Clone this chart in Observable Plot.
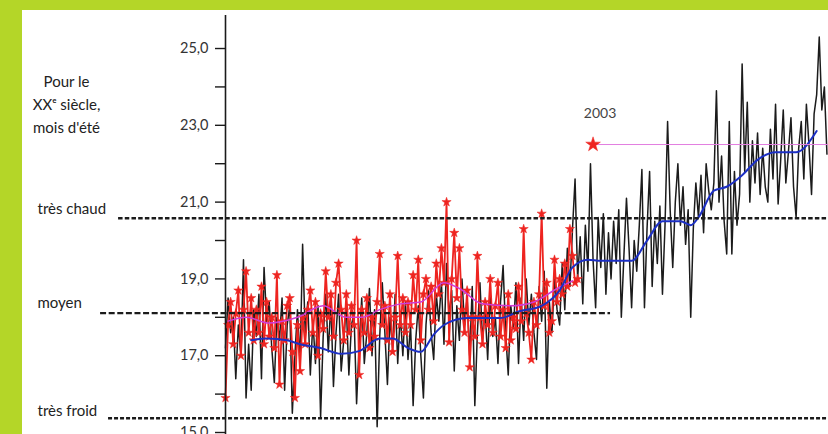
<!DOCTYPE html>
<html><head><meta charset="utf-8">
<script src="https://cdn.jsdelivr.net/npm/d3@7"></script>
<script src="https://cdn.jsdelivr.net/npm/@observablehq/plot@0.6"></script>
<style>
html,body{margin:0;padding:0;background:#b4d628;width:828px;height:434px;overflow:hidden;}
#chart{position:absolute;left:22px;top:10px;width:806px;height:424px;background:#fff;overflow:hidden;}
</style></head><body><div id="chart"></div>
<script>
// ---- data ----
const startYear = 1860;
// simulated summer temperature, one value per year 1860–2094 (black)
const blackValues = [
17.2,18.5,17.6,18.0,16.4,17.8,17.0,19.5,15.9,17.3,
16.1,18.2,17.5,18.6,16.4,19.3,17.9,18.4,17.2,16.3,
18.0,17.4,18.5,16.1,17.8,18.3,15.5,17.0,18.2,16.8,
19.9,17.6,18.4,16.5,17.9,16.8,18.3,15.4,17.5,18.6,
17.1,18.4,16.2,17.6,18.6,16.6,17.4,18.3,16.5,17.8,
18.1,15.75,17.3,18.5,16.8,17.6,18.75,17.0,18.2,15.15,
17.5,18.9,17.6,16.25,18.0,17.2,18.6,16.8,18.1,17.0,
18.4,16.9,17.8,15.7,17.4,18.3,17.0,15.9,17.8,18.7,
17.6,16.9,18.6,17.9,18.9,17.3,19.4,18.0,18.7,16.6,
18.3,17.4,19.0,17.8,18.5,17.0,18.8,15.7,17.6,18.9,
17.4,18.2,16.9,18.6,17.5,18.0,16.8,18.4,19.35,17.6,
16.5,18.3,17.7,18.9,16.8,18.5,17.4,19.0,17.8,18.6,
17.6,16.9,18.8,17.9,19.2,16.15,18.4,17.6,19.0,18.2,
17.8,19.4,18.2,19.8,18.8,20.3,21.6,19.0,20.1,18.35,
20.4,19.2,22.0,19.5,18.25,20.6,19.3,20.7,18.6,20.2,
19.0,20.5,19.4,20.8,18.0,19.6,21.1,19.8,18.25,20.0,
19.2,20.4,21.85,18.25,20.3,21.8,18.8,20.5,19.4,20.9,
18.6,20.4,23.1,20.8,19.3,21.0,22.0,20.4,21.4,19.9,
20.8,18.0,20.3,21.5,20.6,21.7,20.2,22.0,21.3,20.8,
21.5,23.9,21.0,22.2,20.5,19.65,23.1,19.65,21.8,20.4,
21.2,24.6,21.8,23.6,21.0,22.6,21.5,22.8,21.2,22.4,
21.4,21.0,22.9,21.6,23.55,20.95,22.1,23.4,21.5,22.3,
23.2,21.4,20.6,22.4,23.1,21.6,23.55,22.5,21.2,23.3,
23.8,25.3,23.4,24.0,22.25
];
// observed summer temperature, one value per year 1860–1997 (red stars)
const redValues = [
15.9,17.8,18.4,17.3,18.1,18.7,17.0,18.2,19.2,17.6,
18.5,17.4,18.2,17.6,18.8,17.3,18.4,17.5,18.0,17.2,
19.1,16.25,17.9,17.4,18.3,18.5,17.1,15.9,17.8,16.6,
18.0,17.3,18.2,18.7,17.6,18.4,17.0,18.1,17.7,19.2,
18.0,18.6,17.5,18.9,19.4,18.2,17.4,18.6,17.6,18.3,
17.8,20.0,16.5,18.2,17.6,18.5,17.2,18.0,17.5,18.4,
19.65,17.8,18.3,17.4,18.6,17.1,18.0,19.6,17.8,18.5,
17.6,18.4,17.8,19.1,18.2,19.5,17.4,18.6,19.0,18.2,
18.8,17.9,19.4,18.6,19.8,18.9,21.0,17.35,19.0,20.2,
18.5,19.8,18.2,17.6,18.7,16.7,18.0,17.5,19.6,18.0,
17.3,18.4,17.8,19.0,17.6,18.3,18.9,17.5,18.2,17.2,
18.6,17.4,18.0,17.7,18.8,17.9,20.3,18.1,17.6,16.9,
18.4,17.8,18.6,20.7,18.3,18.9,17.6,17.9,19.5,18.4,
19.0,18.6,19.4,18.8,20.3,19.6,18.9,19.0
];
// smoothed simulation (blue)
const blueYears  = [1870,1876,1884,1889,1897,1905,1912,1920,1925,1931,1936,1941,1945,1954,1967,1974,1983,1990,1995,2001,2006,2018,2024,2030,2037,2041,2044,2050,2055,2061,2067,2074,2082,2090];
const blueValues = [17.4,17.45,17.4,17.3,17.2,17.05,17.12,17.45,17.45,17.2,17.1,17.55,17.8,17.98,17.98,18.15,18.3,18.7,19.3,19.5,19.47,19.47,20.0,20.5,20.5,20.4,20.6,21.3,21.4,21.7,22.1,22.3,22.3,22.85];
// smoothed observations (magenta)
const magentaYears  = [1861,1868,1877,1888,1898,1907,1913,1920,1928,1936,1945,1951,1960,1971,1980,1989,1995];
const magentaValues = [17.9,18.0,17.85,18.0,18.3,18.0,18.0,18.2,18.35,18.4,18.9,18.75,18.35,18.3,18.4,18.75,18.95];
// reference levels
const levelNames  = ["très chaud", "moyen", "très froid"];
const levelValues = [20.58, 18.11, 15.37];
// 2003 record
const recordYear = 2003;
const recordValue = 22.5;
const recordLabel = "2003";
const sideTitle = "Pour le\nXXᵉ siècle,\nmois d'été";
const yTicks = [15,16,17,18,19,20,21,22,23,24,25];

// ---- tables ----
const black = blackValues.map((v, i) => ({year: startYear + i, value: v}));
const red = redValues.map((v, i) => ({year: startYear + i, value: v}));
const blue = blueYears.map((y, i) => ({year: y, value: blueValues[i]}));
const magenta = magentaYears.map((y, i) => ({year: y, value: magentaValues[i]}));

const RED = "#ee2420", BLUE = "#1c2fc4", MAG = "#d23ad6", INK = "#1b1b1b";
const xEnd = 2094.6;

const chart = Plot.plot({
  width: 806, height: 424,
  marginLeft: 203, marginRight: 0, marginTop: 5, marginBottom: 2,
  x: {domain: [startYear, xEnd], axis: null, label: null},
  y: {domain: [15, 25.86], axis: null, label: null},
  style: {fontFamily: "Lato, 'Open Sans', sans-serif", fontSize: "14px", color: "#222", background: "transparent", overflow: "visible"},
  marks: [
    Plot.line(black, {x: "year", y: "value", stroke: INK, strokeWidth: 1.5}),
    Plot.line(red, {x: "year", y: "value", stroke: RED, strokeWidth: 1.8}),
    Plot.dot(red, {x: "year", y: "value", symbol: "star", r: 2.9, fill: RED, stroke: RED, strokeWidth: 0.5}),
    Plot.line(magenta, {x: "year", y: "value", stroke: MAG, strokeWidth: 1.5, curve: "monotone-x"}),
    Plot.line(blue, {x: "year", y: "value", stroke: BLUE, strokeWidth: 2, curve: "monotone-x"}),
    // level lines
    Plot.ruleY([levelValues[0]], {x1: 1818.4, x2: xEnd, stroke: INK, strokeWidth: 2.4, strokeDasharray: "4.5,2.2"}),
    Plot.ruleY([levelValues[1]], {x1: 1811.4, x2: 2009.8, stroke: INK, strokeWidth: 2.4, strokeDasharray: "6,2.6"}),
    Plot.ruleY([levelValues[2]], {x1: 1814.5, x2: xEnd, stroke: INK, strokeWidth: 2.4, strokeDasharray: "4,2"}),
    // level labels
    Plot.text([levelNames[0]], {x: () => startYear, y: () => levelValues[0], dx: -188, dy: -9, textAnchor: "start", fontSize: 15, fill: "#222"}),
    Plot.text([levelNames[1]], {x: () => startYear, y: () => levelValues[1], dx: -188, dy: -10, textAnchor: "start", fontSize: 15, fill: "#222"}),
    Plot.text([levelNames[2]], {x: () => startYear, y: () => levelValues[2], dx: -188, dy: -7, textAnchor: "start", fontSize: 15, fill: "#222"}),
    Plot.text([sideTitle], {x: () => startYear, y: () => 23.59, dx: -159, textAnchor: "middle", fontSize: 15, lineHeight: 1.55, fill: "#222"}),
    // 2003 record
    Plot.ruleY([recordValue], {x1: recordYear, x2: xEnd, stroke: "#e27ee0", strokeWidth: 1}),
    Plot.dot([recordValue], {x: () => recordYear, y: d => d, symbol: "star", r: 4.6, fill: RED, stroke: RED, strokeWidth: 0.5}),
    Plot.text([recordLabel], {x: () => recordYear, y: () => recordValue, dx: 7, dy: -31, fill: "#444", fontSize: 14}),
    // y axis
    Plot.ruleX([startYear], {y1: 14.6, y2: 25.86, stroke: INK, strokeWidth: 1.6}),
    Plot.axisY({ticks: yTicks, anchor: "left", label: null, tickSize: 10, tickPadding: 7, strokeWidth: 1.4, stroke: INK,
      tickFormat: d => (d % 2 === 1 ? d.toFixed(1).replace(".", ",") : ""), fontSize: 14.5, fill: "#333"})
  ]
});
document.getElementById("chart").appendChild(chart);
</script>
</body></html>
